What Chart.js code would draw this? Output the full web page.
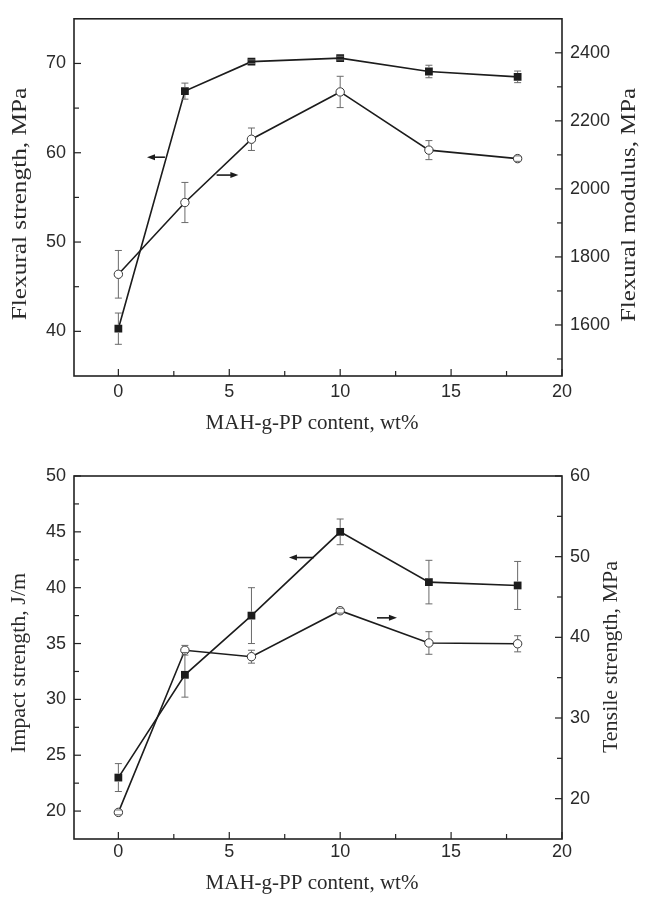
<!DOCTYPE html>
<html>
<head>
<meta charset="utf-8">
<script src="https://cdn.jsdelivr.net/npm/chart.js@4.4.1/dist/chart.umd.min.js"></script>
<style>
  body { margin: 0; background: #fff; }
  canvas { display: block; }
</style>
</head>
<body>
<canvas id="chart-flexural" width="650" height="440"></canvas>
<canvas id="chart-impact" width="650" height="457"></canvas>
<script>
// Data
const content = [0, 3, 6, 10, 14, 18];           // MAH-g-PP content, wt%

const flexStrength    = [40.3, 66.9, 70.2, 70.6, 69.1, 68.5];   // MPa, left axis
const flexStrengthErr = [1.75, 0.9, 0.2, 0.2, 0.7, 0.65];
const flexModulus     = [1749, 1960, 2146, 2285, 2114, 2089];   // MPa, right axis
const flexModulusErr  = [70, 59, 33, 46, 28, 8];

const impactStrength  = [23.0, 32.2, 37.5, 45.0, 40.5, 40.2];   // J/m, left axis
const impactErr       = [1.25, 2.0, 2.5, 1.15, 1.95, 2.15];
const tensileStrength = [18.3, 38.4, 37.6, 43.3, 39.3, 39.2];   // MPa, right axis
const tensileErr      = [0.3, 0.6, 0.8, 0.3, 1.4, 1.0];

const xTicks            = [0, 5, 10, 15, 20];
const flexStrengthTicks = [40, 50, 60, 70];
const flexModulusTicks  = [1600, 1800, 2000, 2200, 2400];
const impactTicks       = [20, 25, 30, 35, 40, 45, 50];
const tensileTicks      = [20, 30, 40, 50, 60];

// arrows pointing to the axis of each curve (x in wt%, y in left-axis units)
const flexArrows   = [{ from: 2.10, to: 1.29, y: 59.5 }, { from: 4.43, to: 5.41, y: 57.5 }];
const impactArrows = [{ from: 8.82, to: 7.69, y: 42.7 }, { from: 11.66, to: 12.56, y: 37.3 }];

const serif = '"Liberation Serif", "Times New Roman", serif';
const sans = '"Liberation Sans", Arial, sans-serif';
const ink = "#1c1c1c";

// Plugins
const frameTicks = {
  id: "frameTicks",
  afterDraw(chart) {
    const { ctx, chartArea: a, scales } = chart;
    ctx.save();
    ctx.strokeStyle = "#222";
    ctx.lineWidth = 1.2;
    const line = (x1, y1, x2, y2) => { ctx.beginPath(); ctx.moveTo(x1, y1); ctx.lineTo(x2, y2); ctx.stroke(); };
    const eachTick = (scale, cb) => {
      const vals = scale.ticks.map(t => t.value);
      const half = (vals[1] - vals[0]) / 2;
      const lo = Math.min(scale.min, scale.max), hi = Math.max(scale.min, scale.max);
      const minors = vals.slice(0, -1).map((v, i) => (v + vals[i + 1]) / 2);
      minors.push(vals[0] - half, vals[vals.length - 1] + half);
      vals.forEach(v => cb(scale.getPixelForValue(v), 7));
      minors.filter(v => v > lo + 1e-6 && v < hi - 1e-6).forEach(v => cb(scale.getPixelForValue(v), 5));
    };
    eachTick(scales.x, (p, l) => line(p, a.bottom, p, a.bottom - l));
    eachTick(scales.yL, (p, l) => line(a.left, p, a.left + l, p));
    eachTick(scales.yR, (p, l) => line(a.right, p, a.right - l, p));
    ctx.lineWidth = 1.6;
    ctx.strokeRect(a.left, a.top, a.right - a.left, a.bottom - a.top);
    ctx.restore();
  },
};

const errorBars = {
  id: "errorBars",
  afterDatasetsDraw(chart) {
    const ctx = chart.ctx;
    ctx.save();
    ctx.strokeStyle = "#6a6a6a";
    ctx.lineWidth = 1;
    chart.data.datasets.forEach((ds, i) => {
      const meta = chart.getDatasetMeta(i);
      const ys = chart.scales[ds.yAxisID];
      const gap = ds.pointStyle === "rect" ? ds.pointRadius * Math.SQRT1_2 : ds.pointRadius;
      meta.data.forEach((pt, j) => {
        const v = ds.data[j].y, e = ds.errors[j];
        const yTop = ys.getPixelForValue(v + e), yBot = ys.getPixelForValue(v - e);
        ctx.beginPath();
        if (pt.y - yTop > gap) { ctx.moveTo(pt.x, yTop); ctx.lineTo(pt.x, pt.y - gap); }
        if (yBot - pt.y > gap) { ctx.moveTo(pt.x, pt.y + gap); ctx.lineTo(pt.x, yBot); }
        ctx.moveTo(pt.x - 3.5, yTop); ctx.lineTo(pt.x + 3.5, yTop);
        ctx.moveTo(pt.x - 3.5, yBot); ctx.lineTo(pt.x + 3.5, yBot);
        ctx.stroke();
      });
    });
    ctx.restore();
  },
};

const arrows = {
  id: "arrows",
  afterDraw(chart, args, opts) {
    const { ctx, scales } = chart;
    ctx.save();
    ctx.strokeStyle = ink;
    ctx.fillStyle = ink;
    ctx.lineWidth = 1.6;
    opts.items.forEach(a => {
      const x1 = scales.x.getPixelForValue(a.from), x2 = scales.x.getPixelForValue(a.to);
      const y = scales.yL.getPixelForValue(a.y);
      const d = Math.sign(x2 - x1);
      ctx.beginPath(); ctx.moveTo(x1, y); ctx.lineTo(x2 - d * 6, y); ctx.stroke();
      ctx.beginPath(); ctx.moveTo(x2, y); ctx.lineTo(x2 - d * 8, y - 3); ctx.lineTo(x2 - d * 8, y + 3);
      ctx.closePath(); ctx.fill();
    });
    ctx.restore();
  },
};

const axisTitles = {
  id: "axisTitles",
  afterDraw(chart, args, o) {
    const ctx = chart.ctx;
    ctx.save();
    ctx.fillStyle = "#2a2a2a";
    ctx.textAlign = "center";
    ctx.font = `${o.x.size}px ${serif}`;
    ctx.textBaseline = "alphabetic";
    ctx.fillText(o.x.text, o.x.cx, o.x.base);
    [o.left, o.right].forEach(t => {
      ctx.save();
      ctx.translate(t.cx, t.cy);
      ctx.rotate(-Math.PI / 2);
      ctx.scale(t.stretch || 1, 1);   // the printed figure is slightly stretched vertically
      ctx.font = `${t.size}px ${serif}`;
      ctx.textBaseline = "middle";
      ctx.fillText(t.text, 0, 0);
      ctx.restore();
    });
    ctx.restore();
  },
};

function setTicks(values) {
  return scale => { scale.ticks = values.map(v => ({ value: v })); };
}

function yAxis(position, min, max, ticks, width) {
  return {
    type: "linear", position, min, max,
    grid: { display: false, drawTicks: false }, border: { display: false },
    afterBuildTicks: setTicks(ticks),
    afterFit: s => { s.width = width; },
    ticks: { padding: 8, color: "#2a2a2a", font: { family: sans, size: 18 }, callback: v => String(v) },
  };
}

function makeChart(id, c) {
  const ctx = document.getElementById(id).getContext("2d");
  return new Chart(ctx, {
    type: "line",
    data: {
      datasets: [
        {
          label: c.leftLabel,
          data: content.map((x, i) => ({ x, y: c.left[i] })),
          errors: c.leftErr,
          yAxisID: "yL",
          borderColor: ink, borderWidth: 1.6,
          pointStyle: "rect", pointRadius: 5.5,
          pointBackgroundColor: ink, pointBorderColor: ink, pointBorderWidth: 0,
        },
        {
          label: c.rightLabel,
          data: content.map((x, i) => ({ x, y: c.right[i] })),
          errors: c.rightErr,
          yAxisID: "yR",
          borderColor: ink, borderWidth: 1.6,
          pointStyle: "circle", pointRadius: 4.2,
          pointBackgroundColor: "#fff", pointBorderColor: "#333", pointBorderWidth: 1,
        },
      ],
    },
    options: {
      responsive: false,
      animation: false,
      events: [],
      layout: { padding: { top: c.padTop, left: 0, right: 0, bottom: 0 } },
      plugins: {
        legend: { display: false },
        tooltip: { enabled: false },
        arrows: { items: c.arrows },
        axisTitles: c.titles,
      },
      scales: {
        x: {
          type: "linear", min: -2, max: 20,
          grid: { display: false, drawTicks: false }, border: { display: false },
          afterBuildTicks: setTicks(xTicks),
          afterFit: s => { s.height = c.xHeight; },
          ticks: { padding: c.xPad, color: "#2a2a2a", font: { family: sans, size: 18 }, autoSkip: false, maxRotation: 0 },
        },
        yL: yAxis("left", c.leftMin, c.leftMax, c.leftTicks, 74),
        yR: yAxis("right", c.rightMin, c.rightMax, c.rightTicks, 88),
      },
    },
    plugins: [frameTicks, errorBars, arrows, axisTitles],
  });
}

// Init
makeChart("chart-flexural", {
  leftLabel: "Flexural strength", rightLabel: "Flexural modulus",
  left: flexStrength, leftErr: flexStrengthErr, right: flexModulus, rightErr: flexModulusErr,
  leftMin: 35, leftMax: 75, leftTicks: flexStrengthTicks,
  rightMin: 1450, rightMax: 2500, rightTicks: flexModulusTicks,
  arrows: flexArrows,
  padTop: 14, xHeight: 64, xPad: 5,
  titles: {
    x: { text: "MAH-g-PP content, wt%", size: 21, cx: 312, base: 429 },
    left: { text: "Flexural strength, MPa", size: 22, stretch: 1.15, cx: 20, cy: 204 },
    right: { text: "Flexural modulus, MPa", size: 22, stretch: 1.13, cx: 629, cy: 205 },
  },
});

makeChart("chart-impact", {
  leftLabel: "Impact strength", rightLabel: "Tensile strength",
  left: impactStrength, leftErr: impactErr, right: tensileStrength, rightErr: tensileErr,
  leftMin: 17.5, leftMax: 50, leftTicks: impactTicks,
  rightMin: 15, rightMax: 60, rightTicks: tensileTicks,
  arrows: impactArrows,
  padTop: 36, xHeight: 58, xPad: 2,
  titles: {
    x: { text: "MAH-g-PP content, wt%", size: 21, cx: 312, base: 449 },
    left: { text: "Impact strength, J/m", size: 22, cx: 19, cy: 223 },
    right: { text: "Tensile strength, MPa", size: 22, cx: 611, cy: 217 },
  },
});
</script>
</body>
</html>
